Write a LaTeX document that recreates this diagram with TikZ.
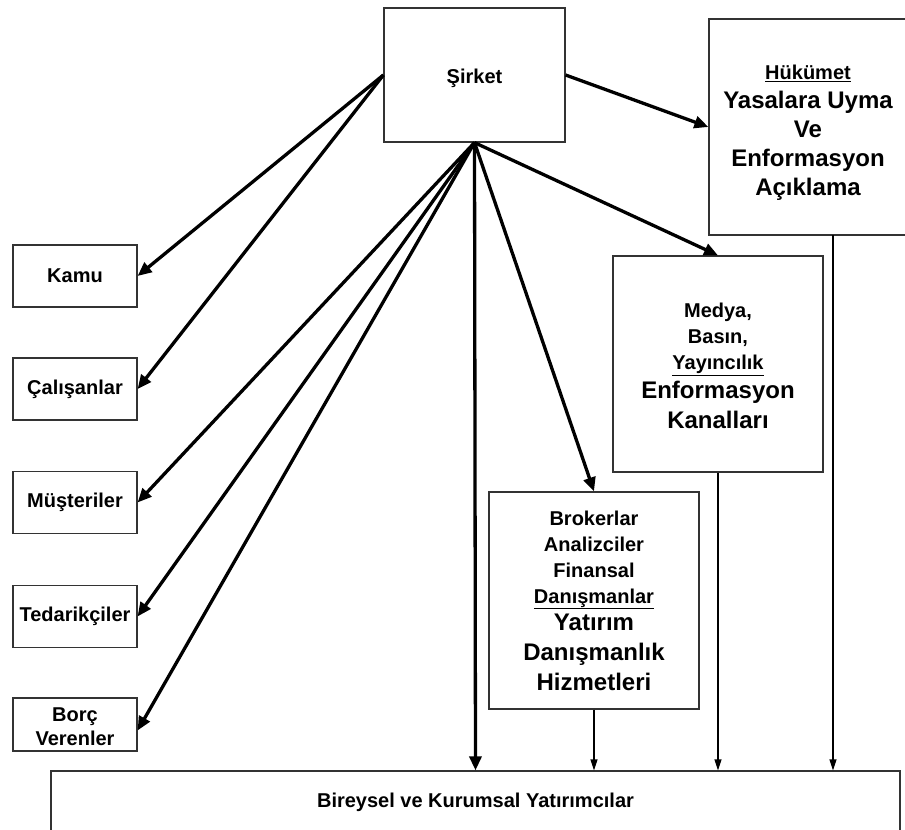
\documentclass[tikz,border=0pt]{standalone}
\usepackage{fontspec}
\setmainfont{Liberation Sans}
\usetikzlibrary{arrows.meta}
\newcommand{\smtxt}{\fontsize{20}{26}\selectfont}
\newcommand{\bgtxt}{\fontsize{24}{26}\selectfont}
\begin{document}
\begin{tikzpicture}[x=1pt,y=-1pt,
  box/.style={draw=black!80, line width=1.2pt, rectangle, inner sep=0pt, align=center, font=\bfseries\smtxt},
  txt/.style={inner sep=0pt, align=center, font=\bfseries\smtxt},
  thick arrow/.style={line width=3.3pt, -{Triangle[length=14pt,width=12pt]}},
  thin arrow/.style={line width=1.2pt, -{Triangle[length=11pt,width=7pt]}}]
\fill[white] (0,0) rectangle (905,830);
\useasboundingbox (0,0) rectangle (905,830);

\node[box, minimum width=181pt, minimum height=134pt] (sirket) at (474.5,75) {};
\node[txt] (sirkettxt) at (474.5,78) {Şirket};

\node[box, minimum width=124pt, minimum height=62pt] (kamu) at (75,276) {Kamu};
\node[box, minimum width=124pt, minimum height=62pt] (calisan) at (75,389) {Çalışanlar};
\node[box, minimum width=124pt, minimum height=62pt] (musteri) at (75,502.5) {Müşteriler};
\node[box, minimum width=124pt, minimum height=62pt] (tedarik) at (75,616.5) {Tedarikçiler};
\node[box, minimum width=124pt, minimum height=53pt] (borc) at (75,724.5) {};
\node[txt] (borctxt) at (75,727) {Borç\\[-2pt]Verenler};

\node[box, minimum width=198pt, minimum height=216pt] (hukumet) at (808,127) {};
\node[txt] (hukumettxt) at (808,133)
  {\underline{Hükümet}\\[3pt]\bgtxt Yasalara Uyma\\[3pt]\bgtxt Ve\\[3pt]\bgtxt Enformasyon\\[3pt]\bgtxt Açıklama};

\node[box, minimum width=210pt, minimum height=216pt] (medya) at (718,364) {};
\node[txt] (medyatxt) at (718,366)
  {Medya,\\Basın,\\\underline{Yayıncılık}\\[3pt]\bgtxt Enformasyon\\[4pt]\bgtxt Kanalları};

\node[box, minimum width=210pt, minimum height=217pt] (broker) at (594,600.5)
  {Brokerlar\\Analizciler\\Finansal\\\underline{Danışmanlar}\\[1pt]\bgtxt Yatırım\\[4pt]\bgtxt Danışmanlık\\[4pt]\bgtxt Hizmetleri};

\node[box, minimum width=849pt, minimum height=62pt] (bottom) at (475.5,802)
  {Bireysel ve Kurumsal Yatırımcılar};

\coordinate (hkfoot) at (833,235);

\draw[thick arrow] (sirket.west) -- (kamu.east);
\draw[thick arrow] (sirket.west) -- (calisan.east);
\draw[thick arrow] (sirket.south) -- (musteri.east);
\draw[thick arrow] (sirket.south) -- (tedarik.east);
\draw[thick arrow] (sirket.south) -- ([yshift=-6pt]borc.east);
\draw[thick arrow] (sirket.east) -- (hukumet.west);
\draw[thick arrow] (sirket.south) -- (medya.north);
\draw[thick arrow] (sirket.south) -- (broker.north);
\draw[thick arrow] (sirket.south) -- (bottom.north);

\draw[thin arrow] (broker.south) -- (broker.south |- bottom.north);
\draw[thin arrow] (medya.south) -- (medya.south |- bottom.north);
\draw[thin arrow] (hkfoot) -- (hkfoot |- bottom.north);
\end{tikzpicture}
\end{document}
